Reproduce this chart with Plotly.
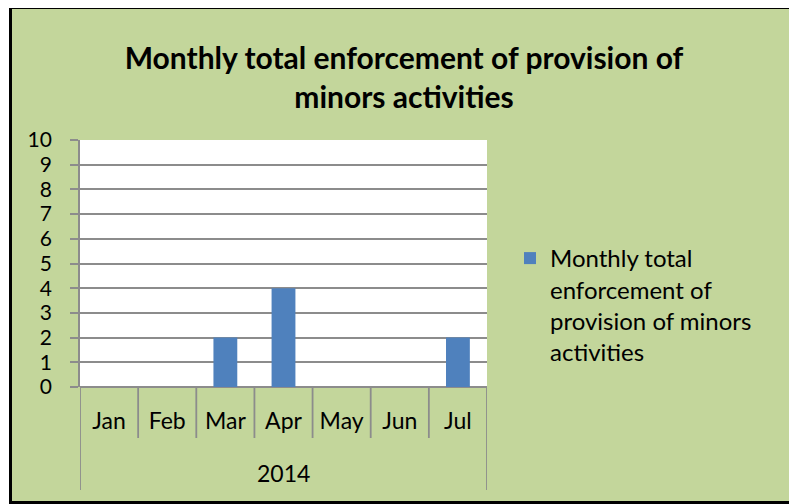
import plotly.graph_objects as go

months = ["Jan", "Feb", "Mar", "Apr", "May", "Jun", "Jul"]
values = [0, 0, 2, 4, 0, 0, 2]
year_label = "2014"
series_name = "Monthly total<br>enforcement of<br>provision of minors<br>activities"
title_text = "<b>Monthly total enforcement of provision of<br>minors activities</b>"
y_ticks = list(range(0, 11))

OFF = 8  # page body margin
W, H = 797 - OFF, 504 - OFF
L, R, T, B = 80 - OFF, 487 - OFF, 140 - OFF, 387 - OFF  # plot area in figure pixels
pw, ph = R - L, B - T


def px_x(p):
    """page pixel x -> paper coordinate"""
    return (p - OFF - L) / pw


def px_y(p):
    """page pixel y -> paper coordinate"""
    return (B - (p - OFF)) / ph


FONT = "Lato, 'Open Sans', sans-serif"
GRID = "#8c8c8c"
BG = "#c3d69b"

fig = go.Figure()
fig.add_trace(go.Bar(
    x=months, y=values, name=series_name,
    marker=dict(color="#4f81bd", line=dict(width=0)),
    width=0.41, showlegend=True,
))

shapes = [
    dict(type="rect", xref="paper", yref="paper", layer="below",
         x0=px_x(10.5), x1=px_x(792.5), y0=px_y(502.5), y1=px_y(7.5),
         fillcolor=BG, line=dict(color="black", width=3)),
    dict(type="rect", xref="x domain", yref="y domain", layer="below",
         x0=0, x1=1, y0=0, y1=1, fillcolor="white", line=dict(width=0)),
]
# category boundary lines below the axis
n = len(months)
for i in range(n + 1):
    edge = i == 0 or i == n
    shapes.append(dict(
        type="line", xref="x", yref="paper", layer="above",
        x0=i - 0.5, x1=i - 0.5, y0=0, y1=px_y(490 if edge else 438),
        line=dict(color=GRID, width=1.8)))

fig.update_layout(
    width=W, height=H,
    margin=dict(l=L, r=W - R, t=T, b=H - B, pad=0),
    paper_bgcolor="white", plot_bgcolor="white",
    font=dict(family=FONT, size=23, color="black"),
    title=dict(text=title_text, x=px_x(404), xanchor="center", xref="paper",
               y=1 - (69 - OFF) / H, yanchor="middle", yref="container",
               font=dict(family=FONT, size=30, color="black")),
    xaxis=dict(
        type="category", range=[-0.5, n - 0.5], showgrid=False,
        ticks="", showline=False, zeroline=False,
        tickfont=dict(size=23), ticklabelstandoff=18,
    ),
    yaxis=dict(
        range=[0, 10], tickvals=y_ticks, showgrid=True, gridcolor=GRID, gridwidth=1.5,
        zeroline=True, zerolinecolor=GRID, zerolinewidth=1.8,
        showline=True, linecolor=GRID, linewidth=1.8,
        ticks="outside", ticklen=8, tickcolor=GRID, tickwidth=1.5,
        tickfont=dict(size=21), ticklabelstandoff=14,
    ),
    legend=dict(
        x=px_x(510), xanchor="left", xref="paper",
        y=px_y(236), yanchor="top", yref="paper",
        bgcolor="rgba(0,0,0,0)", font=dict(size=24), valign="top",
        itemwidth=30,
    ),
    shapes=shapes,
    annotations=[
        dict(text=year_label, xref="x", yref="paper", x=(n - 1) / 2, y=px_y(473),
             xanchor="center", yanchor="middle", showarrow=False,
             font=dict(size=23, family=FONT, color="black")),
    ],
)

fig.write_html("out.html")
